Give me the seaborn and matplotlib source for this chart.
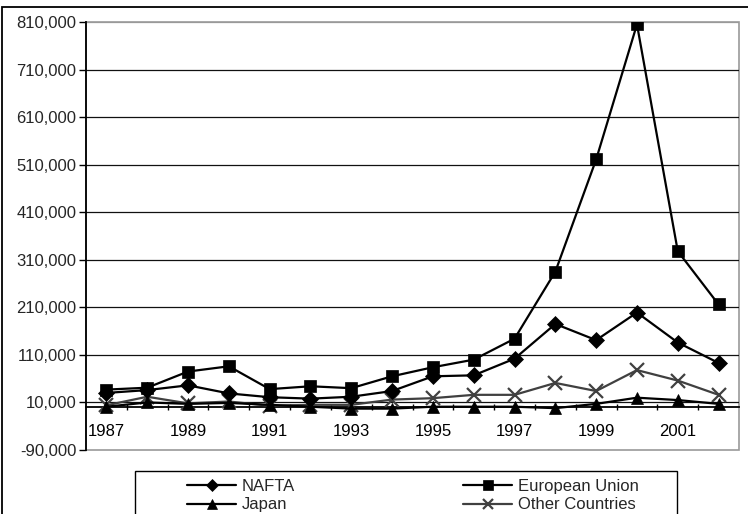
import matplotlib
matplotlib.use("Agg")
import matplotlib.pyplot as plt
from matplotlib.patches import Rectangle
from matplotlib.ticker import FuncFormatter, FixedLocator
import numpy as np
import seaborn as sns

# Annual values per region
years = list(range(1987, 2003))
nafta = [30000, 36000, 46000, 29000, 21000, 18000, 22000, 34000,
         65000, 67000, 102000, 175000, 141000, 199000, 136000, 93000]
european_union = [37000, 41000, 75000, 86000, 38000, 44000, 40000, 65000,
                  84000, 100000, 144000, 285000, 521000, 805000, 328000, 216000]
japan = [1000, 10000, 7000, 9000, 5000, 1000, -3000, -3000,
         1000, 1000, 1000, -2000, 7000, 20000, 15000, 7000]
other_countries = [4000, 22000, 8000, 12000, 3000, 5000, 5000, 16000,
                   19000, 26000, 26000, 51000, 34000, 78000, 56000, 26000]

series_names = ["NAFTA", "European Union", "Japan", "Other Countries"]
y_ticks = list(range(-90000, 810001, 100000))
x_label_years = [1987, 1989, 1991, 1993, 1995, 1997, 1999, 2001]

sns.set_theme(style="white")
plt.rcParams["font.family"] = ["Liberation Sans", "DejaVu Sans"]
plt.rcParams["font.size"] = 12

fig = plt.figure(figsize=(7.48, 5.14), dpi=100)
W, H = 748, 514
ax = fig.add_axes([86 / W, 1 - 450 / H, (739 - 86) / W, (450 - 22) / H])

styles = {
    "NAFTA": dict(marker="D", color="black", ms=8, mec="black", mew=0.5),
    "European Union": dict(marker="s", color="black", ms=8, mec="black", mew=0.5),
    "Japan": dict(marker="^", color="black", ms=9, mec="black", mew=0.5),
    "Other Countries": dict(marker="x", color="#404040", ms=9.5, mec="#404040", mew=1.6),
}
data = {"NAFTA": nafta, "European Union": european_union,
        "Japan": japan, "Other Countries": other_countries}

for name in ["Other Countries", "Japan", "NAFTA", "European Union"]:
    st = styles[name]
    sns.lineplot(x=years, y=data[name], ax=ax, color=st["color"], lw=1.6,
                 marker=st["marker"], markersize=st["ms"],
                 markeredgecolor=st["mec"], markeredgewidth=st["mew"],
                 markerfacecolor=st["color"], label=name, legend=False,
                 zorder=4)

ax.set_xlim(1986.5, 2002.5)
ax.set_ylim(-90000, 810000)
ax.set_xlabel("")
ax.set_ylabel("")

# horizontal gridlines
ax.set_yticks(y_ticks)
ax.yaxis.set_major_formatter(FuncFormatter(lambda v, p: f"{int(v):,}"))
for v in y_ticks[1:]:
    ax.axhline(v, color="#111111" if v < 810000 else "#999999", lw=0.9, zorder=1)

# category axis crossing at zero
ax.spines["bottom"].set_position(("data", 0))
ax.spines["bottom"].set_color("black")
ax.spines["bottom"].set_linewidth(1.3)
ax.spines["left"].set_color("black")
ax.spines["left"].set_linewidth(1.3)
for s in ["top", "right"]:
    ax.spines[s].set_visible(False)
ax.add_patch(Rectangle((0, 0), 1, 1, transform=ax.transAxes, fill=False,
                       edgecolor="#999999", lw=1.2, zorder=0, clip_on=False))

ax.xaxis.set_major_locator(FixedLocator(x_label_years))
ax.xaxis.set_minor_locator(FixedLocator(np.arange(1987.5, 2002.5, 1.0)))
ax.set_xticklabels([str(y) for y in x_label_years])
ax.tick_params(axis="x", which="major", length=0, pad=12, labelsize=12,
               colors="black")
ax.tick_params(axis="x", which="minor", length=5, width=1, direction="inout",
               color="black", bottom=True)
ax.tick_params(axis="y", which="major", length=5, width=1, direction="out",
               color="black", left=True, labelsize=12, pad=2)

# outer chart frame
fig.add_artist(Rectangle((2 / W, -0.05), 800 / W, 1.05 - 7 / H,
                         transform=fig.transFigure, fill=False,
                         edgecolor="black", lw=1.3))

# legend laid out row by row: NAFTA, European Union / Japan, Other Countries
handles, labels = ax.get_legend_handles_labels()
col_order = ["NAFTA", "Japan", "European Union", "Other Countries"]
order = [labels.index(n) for n in col_order]
leg = fig.legend([handles[i] for i in order], [labels[i] for i in order],
                 loc="upper center", bbox_to_anchor=(413 / W, 1 - 479 / H),
                 ncol=2, frameon=False, fontsize=12, handlelength=2.9,
                 handletextpad=0.36, columnspacing=10.1, labelspacing=0.2,
                 borderpad=0, borderaxespad=0)
for h in leg.legend_handles:
    h.set_markersize(6.5)
fig.add_artist(Rectangle((135 / W, -0.05), (677 - 135) / W, 1 - 471 / H + 0.05,
                         transform=fig.transFigure, fill=False,
                         edgecolor="black", lw=1.0))

fig.savefig("out.png", dpi=100)
